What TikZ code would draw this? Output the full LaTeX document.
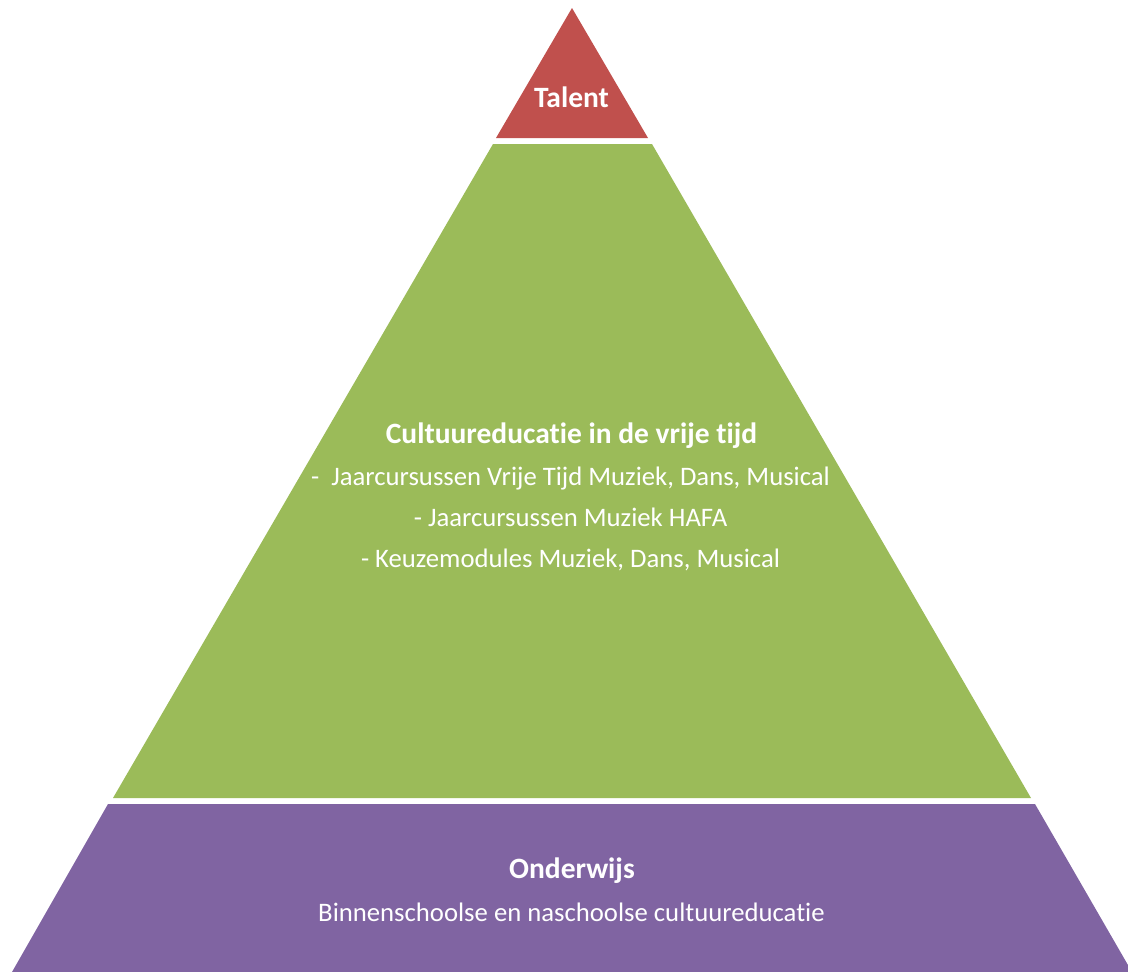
\documentclass[tikz,border=0pt]{standalone}
\usepackage{fontspec}
\setmainfont{Carlito}[Ligatures=NoCommon]
\definecolor{talentcolor}{HTML}{C0504D}
\definecolor{vrijetijdcolor}{HTML}{9BBB59}
\definecolor{onderwijscolor}{HTML}{8064A2}
\tikzset{
  pyr talent/.style={fill=talentcolor},
  pyr vrijetijd/.style={fill=vrijetijdcolor},
  pyr onderwijs/.style={fill=onderwijscolor},
  pyr head/.style={text=white,font=\fontsize{29.5}{34}\selectfont\bfseries,anchor=base,inner sep=0pt},
  pyr line/.style={text=white,font=\fontsize{26.7}{32}\selectfont,anchor=base,inner sep=0pt}
}
\begin{document}
\begin{tikzpicture}[x=1pt,y=-1pt]
  \useasboundingbox (0,0) rectangle (1128,972);
  % the three layers of the pyramid
  \fill[pyr talent] (572,8)--(648,138)--(496,138)--cycle;
  \fill[pyr vrijetijd] (493,144)--(652,144)--(1031,798)--(113,798)--cycle;
  \fill[pyr onderwijs] (108,804)--(1035,804)--(1132,972)--(12,972)--cycle;
  % texts
  \node[pyr head] (talent) at (571.5,107) {Talent};
  \node[pyr head] (vrijetijd) at (571.5,443) {Cultuureducatie in de vrije tijd};
  \node[pyr line] (vt1) at (570.5,485) {-\ \ Jaarcursussen Vrije Tijd Muziek, Dans, Musical};
  \node[pyr line] (vt2) at (570.5,526) {- Jaarcursussen Muziek HAFA};
  \node[pyr line] (vt3) at (570.5,567) {- Keuzemodules Muziek, Dans, Musical};
  \node[pyr head] (onderwijs) at (572,878.5) {Onderwijs};
  \node[pyr line] (ow1) at (571.5,921) {Binnenschoolse en naschoolse cultuureducatie};
\end{tikzpicture}
\end{document}
